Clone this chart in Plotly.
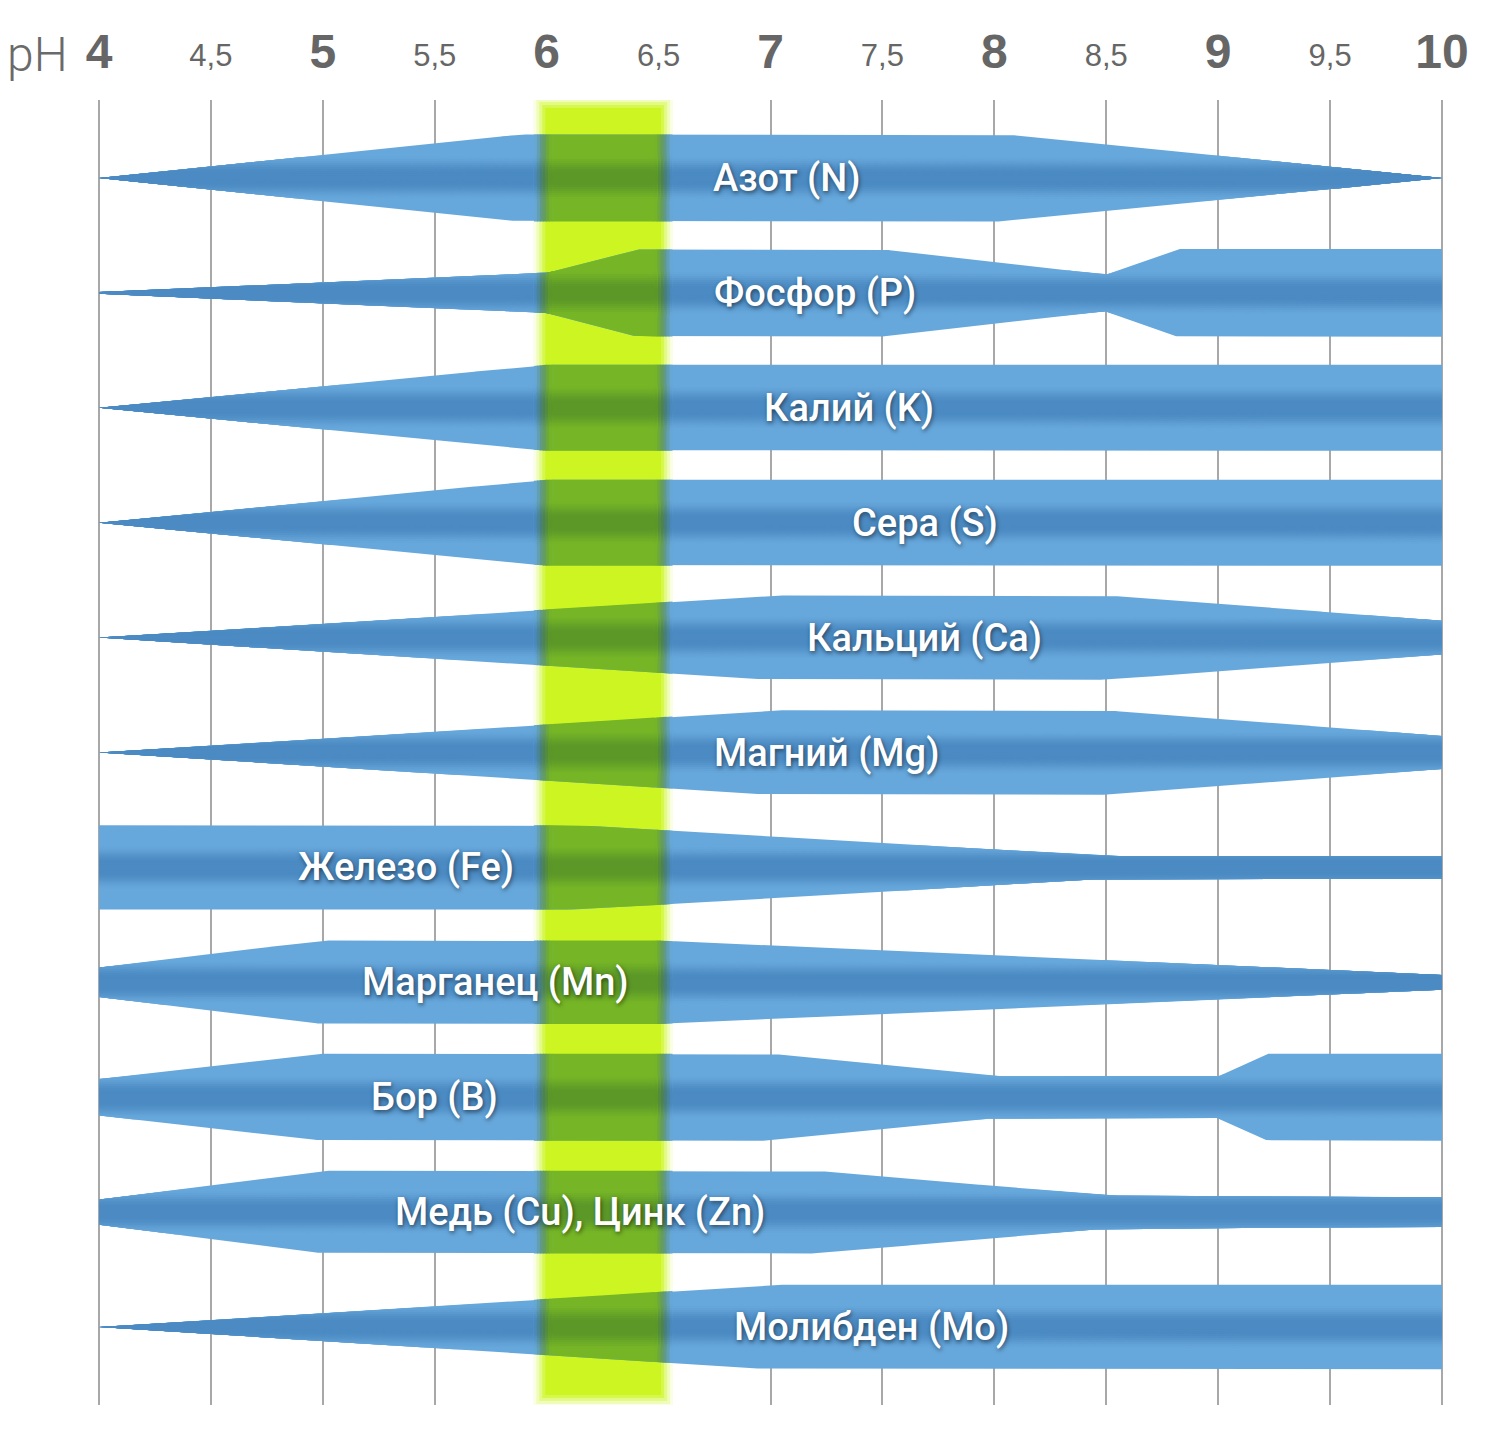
import numpy as np
import plotly.graph_objects as go

# ---------------- data ----------------
nutrients = ["Азот (N)", "Фосфор (P)", "Калий (K)", "Сера (S)", "Кальций (Ca)",
             "Магний (Mg)", "Железо (Fe)", "Марганец (Mn)", "Бор (B)",
             "Медь (Cu), Цинк (Zn)", "Молибден (Mo)"]

# availability profiles: pH breakpoints and relative availability (0..1)
n_ph = [4, 5.88, 8.05, 10];              n_av = [0, 1, 1, 0]
p_ph = [4, 6, 6.4, 7.5, 8.5, 8.82, 10];  p_av = [0.02, 0.46, 1, 1, 0.42, 1.01, 1.01]
k_ph = [4, 6, 10];                       k_av = [0, 0.99, 0.99]
s_ph = [4, 6, 10];                       s_av = [0, 0.99, 0.99]
ca_ph = [4, 7, 8.5, 10];                 ca_av = [0, 0.97, 0.97, 0.39]
mg_ph = [4, 7, 8.5, 10];                 mg_av = [0, 0.97, 0.97, 0.38]
fe_ph = [4, 6.14, 8.5, 10];              fe_av = [0.97, 0.97, 0.26, 0.26]
mn_ph = [4, 5, 6.5, 10];                 mn_av = [0.34, 0.96, 0.96, 0.17]
b_ph = [4, 5, 7, 8, 9, 9.22, 10];        b_av = [0.42, 1, 1, 0.48, 0.48, 1, 1]
cu_ph = [4, 5, 7.2, 8.5, 10];            cu_av = [0.29, 0.95, 0.95, 0.38, 0.34]
mo_ph = [4, 7, 10];                      mo_av = [0, 0.97, 0.97]

label_ph = [7.07, 7.20, 7.35, 7.69, 7.69, 7.25, 5.37, 5.77, 5.50, 6.15, 7.45]

optimal_range = [5.985, 6.52]

major_ticks = [4, 5, 6, 7, 8, 9, 10]
major_labels = ["4", "5", "6", "7", "8", "9", "10"]
minor_ticks = [4.5, 5.5, 6.5, 7.5, 8.5, 9.5]
minor_labels = ["4,5", "5,5", "6,5", "7,5", "8,5", "9,5"]

profiles = [(n_ph, n_av), (p_ph, p_av), (k_ph, k_av), (s_ph, s_av), (ca_ph, ca_av),
            (mg_ph, mg_av), (fe_ph, fe_av), (mn_ph, mn_av), (b_ph, b_av),
            (cu_ph, cu_av), (mo_ph, mo_av)]

# ---------------- geometry / style ----------------
W, H = 1500, 1450
ML, MR, MT, MB = 97, 56, 100, 45
PX_PER_PH = (1442 - 99) / 6.0
XPAD = 2.0 / PX_PER_PH          # small padding so edge gridlines at 4 and 10 show
ROW_PX = 114.9
PAD = (178 - MT) / ROW_PX
Y0, Y1 = -PAD, len(nutrients) - 1 + PAD
HMAX = 43.5 / ROW_PX

def px2ph(p):
    return p / PX_PER_PH

def px2row(p):
    return p / ROW_PX

def mix(c1, c2, t):
    return tuple(c1[i] + (c2[i] - c1[i]) * t for i in range(3))

def rgb(c, k=1.0):
    return "rgb(%d,%d,%d)" % tuple(max(0, min(255, round(v * k))) for v in c)

BL = (103, 168, 220)   # blue light
BD = (75, 138, 194)    # blue dark centre
GL = (118, 182, 38)    # green light (overlap)
GD = (92, 152, 40)     # green dark centre
BB = (204, 245, 33)    # bright band
WHITE = (255, 255, 255)

# gradient strips (half-height px) and darkness at each strip
strip_h = [23, 21, 19, 17, 15, 13, 11, 9, 7, 5, 3]
def dark(d):
    u = np.clip((23 - d) / 18.0, 0, 1)
    return u * u * (3 - 2 * u)
strip_t = [float(dark(h - 1.0)) for h in strip_h]


def polys(xa, xb, cap, n=400):
    X, Y = [], []
    xs = np.linspace(xa, xb, n)
    for i, (ph, av) in enumerate(profiles):
        xs_all = np.unique(np.concatenate([xs, [v for v in ph if xa < v < xb]]))
        hw = np.interp(xs_all, ph, av) * HMAX
        if cap is not None:
            hw = np.minimum(hw, cap)
        up = i - hw
        lo = i + hw
        X += list(xs_all) + list(xs_all[::-1]) + [xs_all[0], None]
        Y += list(up) + list(lo[::-1]) + [up[0], None]
    return X, Y


fig = go.Figure()

def add_layer(xa, xb, light, darkc, k=1.0, n=400):
    X, Y = polys(xa, xb, None, n)
    fig.add_trace(go.Scatter(x=X, y=Y, fill="toself", mode="lines",
                             line=dict(width=0), fillcolor=rgb(light, k),
                             hoverinfo="skip", showlegend=False))
    for h, t in zip(strip_h, strip_t):
        X, Y = polys(xa, xb, px2row(h), n)
        fig.add_trace(go.Scatter(x=X, y=Y, fill="toself", mode="lines",
                                 line=dict(width=0), fillcolor=rgb(mix(light, darkc, t), k),
                                 hoverinfo="skip", showlegend=False))

# blue shapes
add_layer(4, 10, BL, BD, n=1200)

# green overlap with soft edges
lo_e, hi_e = optimal_range
TW = 9.0    # transition half-width px
NS = 6
edges = np.linspace(-TW, TW, NS + 1)
eps = px2ph(0.4)
for side in ("left", "right"):
    for j in range(NS):
        d0, d1 = edges[j], edges[j + 1]
        dm = 0.5 * (d0 + d1)
        u = (dm + TW) / (2 * TW)
        t = u * u * (3 - 2 * u)
        kdark = 1 - 0.12 * 4 * t * (1 - t)
        if side == "left":
            xa, xb = lo_e + px2ph(d0) - eps, lo_e + px2ph(d1) + eps
        else:
            xa, xb = hi_e - px2ph(d1) - eps, hi_e - px2ph(d0) + eps
        add_layer(xa, xb, mix(BL, GL, t), mix(BD, GD, t), k=kdark, n=3)
add_layer(lo_e + px2ph(TW), hi_e - px2ph(TW), GL, GD, n=200)

# dummy trace so the minor-label axis is drawn
fig.add_trace(go.Scatter(x=[7], y=[Y0], xaxis="x2", mode="markers",
                         marker=dict(opacity=0), hoverinfo="skip", showlegend=False))

# bright band (soft rectangles below traces)
band_top = px2row(106 - 178)
band_bot = len(nutrients) - 1 + px2row(1397 - 1327)
shapes = []
for e, t in zip([10, 7, 4, 1, -2], [0.12, 0.3, 0.55, 0.8, 1.0]):
    shapes.append(dict(type="rect", xref="x", yref="y", layer="between",
                       x0=lo_e - px2ph(e), x1=hi_e + px2ph(e),
                       y0=band_top - px2row(e), y1=band_bot + px2row(e),
                       line=dict(width=0), fillcolor=rgb(mix(WHITE, BB, t))))

# labels
annotations = []
for i, (name, xp) in enumerate(zip(nutrients, label_ph)):
    annotations.append(dict(x=xp, y=i, xref="x", yref="y", text=name, showarrow=False,
                            xanchor="center", yanchor="middle",
                            font=dict(family="Roboto", size=38, color="white", weight=500,
                                      shadow="1px 2px 4px rgba(0,0,0,0.5)")))
plot_w = W - ML - MR
annotations.append(dict(x=(70 - ML) / plot_w, y=1 + 45 / (H - MT - MB), xref="paper", yref="paper",
                        text="pH", showarrow=False, xanchor="right", yanchor="middle",
                        font=dict(family="Roboto", size=48, color="#6a6a6a", weight=300)))

grid = dict(showgrid=True, gridcolor="#a8a8a8", gridwidth=2)
fig.update_layout(
    width=W, height=H, margin=dict(l=ML, r=MR, t=MT, b=MB),
    paper_bgcolor="white", plot_bgcolor="white",
    shapes=shapes, annotations=annotations, showlegend=False,
    xaxis=dict(range=[4 - XPAD, 10 + XPAD], side="top", tickvals=major_ticks, ticktext=major_labels,
               tickfont=dict(family="Liberation Sans", size=48, color="#666666", weight="bold"),
               ticks="", ticklabelstandoff=21, zeroline=False, showline=False,
               minor=dict(tickvals=minor_ticks, **grid), **grid),
    xaxis2=dict(range=[4 - XPAD, 10 + XPAD], side="top", overlaying="x", anchor="y",
                tickvals=minor_ticks, ticktext=minor_labels,
                tickfont=dict(family="Liberation Sans", size=31, color="#666666"),
                ticks="", ticklabelstandoff=27, showgrid=False, zeroline=False, showline=False),
    yaxis=dict(range=[Y1, Y0], visible=False, showgrid=False, zeroline=False),
)

fig.write_html("out.html")
